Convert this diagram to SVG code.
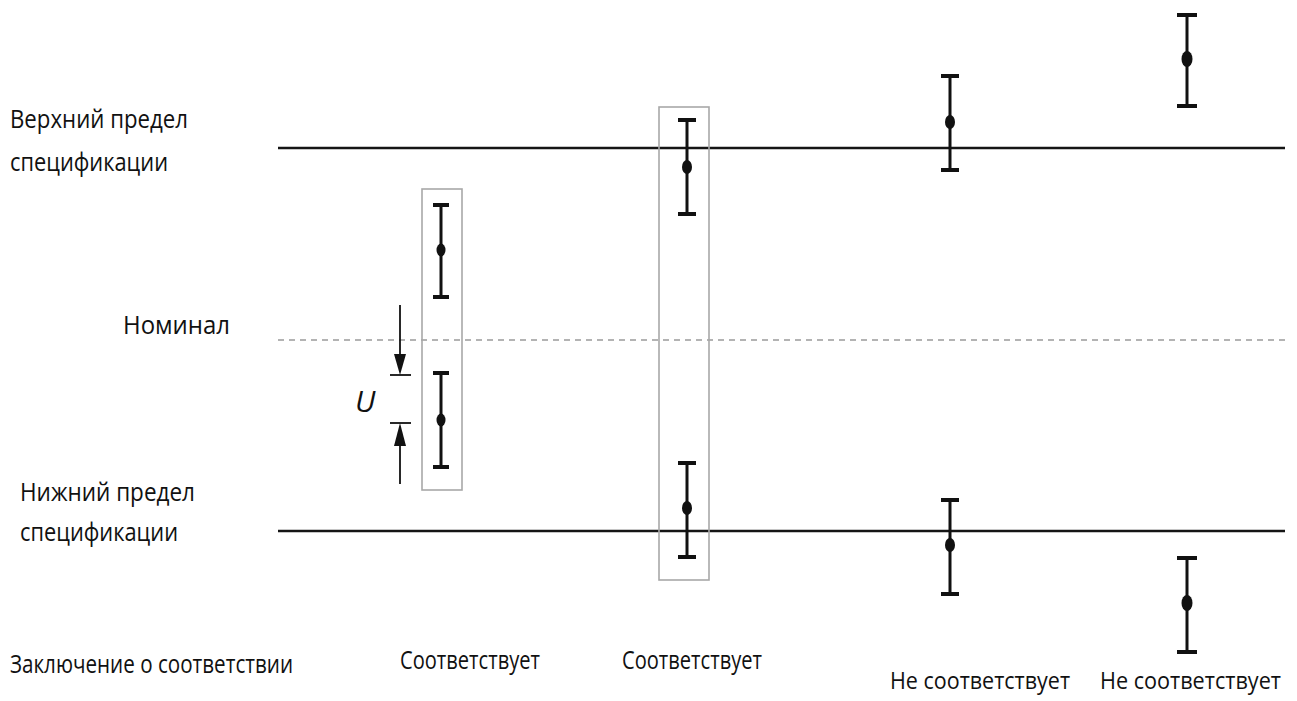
<svg xmlns="http://www.w3.org/2000/svg" width="1297" height="701" viewBox="0 0 1297 701">
<style>
.t{font-family:"Open Sans","Liberation Sans",sans-serif;font-size:26px;fill:#111}
.s{font-size:23.5px}
.lim{stroke:#151515;stroke-width:2.6;fill:none}
.nom{stroke:#9a9a9a;stroke-width:1.6;stroke-dasharray:6 5;fill:none}
.box{stroke:#a8a8a8;stroke-width:1.6;fill:none}
.eb{stroke:#111;stroke-width:3;fill:none}
.cap{stroke:#111;stroke-width:4;fill:none}
.dot{fill:#111}
.arr{stroke:#111;stroke-width:1.8;fill:none}
</style>
<rect width="1297" height="701" fill="#fff"/>
<g id="labels">
<text class="t" x="10" y="128" textLength="178" lengthAdjust="spacingAndGlyphs">Верхний предел</text>
<text class="t" x="10" y="171" textLength="158" lengthAdjust="spacingAndGlyphs">спецификации</text>
<text class="t" x="123" y="334" textLength="107" lengthAdjust="spacingAndGlyphs">Номинал</text>
<text class="t" x="20" y="501" textLength="175" lengthAdjust="spacingAndGlyphs">Нижний предел</text>
<text class="t" x="20" y="541" textLength="158" lengthAdjust="spacingAndGlyphs">спецификации</text>
<text class="t" x="10" y="673" textLength="283" lengthAdjust="spacingAndGlyphs">Заключение о соответствии</text>
<text class="t" x="400" y="669" textLength="140" lengthAdjust="spacingAndGlyphs">Соответствует</text>
<text class="t" x="622" y="669" textLength="140" lengthAdjust="spacingAndGlyphs">Соответствует</text>
<text class="t s" x="890" y="689" textLength="180" lengthAdjust="spacingAndGlyphs">Не соответствует</text>
<text class="t s" x="1100" y="689" textLength="181" lengthAdjust="spacingAndGlyphs">Не соответствует</text>
<text x="355" y="412" font-family="'Open Sans','Liberation Sans',sans-serif" font-style="italic" font-size="30" fill="#111">U</text>
</g>
<g id="connectors">
<line class="lim" x1="278" y1="148" x2="1285" y2="148"/>
<line class="nom" x1="278" y1="340" x2="1285" y2="340"/>
<line class="lim" x1="278" y1="531" x2="1285" y2="531"/>
<line class="arr" x1="400" y1="305" x2="400" y2="356"/>
<polygon points="394,354 406,354 400,375" fill="#111"/>
<line class="arr" x1="390" y1="375" x2="411" y2="375"/>
<line class="arr" x1="390" y1="423" x2="411" y2="423"/>
<polygon points="400,423 394,446 406,446" fill="#111"/>
<line class="arr" x1="400" y1="444" x2="400" y2="484"/>
</g>
<g id="box1"><rect class="box" x="422" y="189" width="40" height="301"/></g>
<g id="box2"><rect class="box" x="659" y="107" width="50" height="473"/></g>
<g id="bar1a"><line class="eb" x1="441" y1="205" x2="441" y2="297"/><line class="cap" x1="433" y1="205" x2="449" y2="205"/><line class="cap" x1="433" y1="297" x2="449" y2="297"/><ellipse class="dot" cx="441" cy="250" rx="4.5" ry="6.5"/></g>
<g id="bar1b"><line class="eb" x1="441" y1="373" x2="441" y2="467"/><line class="cap" x1="433" y1="373" x2="449" y2="373"/><line class="cap" x1="433" y1="467" x2="449" y2="467"/><ellipse class="dot" cx="441" cy="420" rx="4.5" ry="6.5"/></g>
<g id="bar2a"><line class="eb" x1="687" y1="120" x2="687" y2="214"/><line class="cap" x1="678" y1="120" x2="696" y2="120"/><line class="cap" x1="678" y1="214" x2="696" y2="214"/><ellipse class="dot" cx="687" cy="167" rx="5" ry="7"/></g>
<g id="bar2b"><line class="eb" x1="687" y1="463" x2="687" y2="557"/><line class="cap" x1="678" y1="463" x2="696" y2="463"/><line class="cap" x1="678" y1="557" x2="696" y2="557"/><ellipse class="dot" cx="687" cy="508" rx="5" ry="7"/></g>
<g id="bar3a"><line class="eb" x1="950" y1="76" x2="950" y2="170"/><line class="cap" x1="941" y1="76" x2="959" y2="76"/><line class="cap" x1="941" y1="170" x2="959" y2="170"/><ellipse class="dot" cx="950" cy="122" rx="5" ry="7"/></g>
<g id="bar3b"><line class="eb" x1="950" y1="500" x2="950" y2="594"/><line class="cap" x1="941" y1="500" x2="959" y2="500"/><line class="cap" x1="941" y1="594" x2="959" y2="594"/><ellipse class="dot" cx="950" cy="545" rx="5" ry="7"/></g>
<g id="bar4a"><line class="eb" x1="1187" y1="15" x2="1187" y2="106"/><line class="cap" x1="1177" y1="15" x2="1197" y2="15"/><line class="cap" x1="1177" y1="106" x2="1197" y2="106"/><ellipse class="dot" cx="1187" cy="59" rx="5.5" ry="8"/></g>
<g id="bar4b"><line class="eb" x1="1187" y1="558" x2="1187" y2="652"/><line class="cap" x1="1177" y1="558" x2="1197" y2="558"/><line class="cap" x1="1177" y1="652" x2="1197" y2="652"/><ellipse class="dot" cx="1187" cy="603" rx="5.5" ry="8"/></g>
</svg>
